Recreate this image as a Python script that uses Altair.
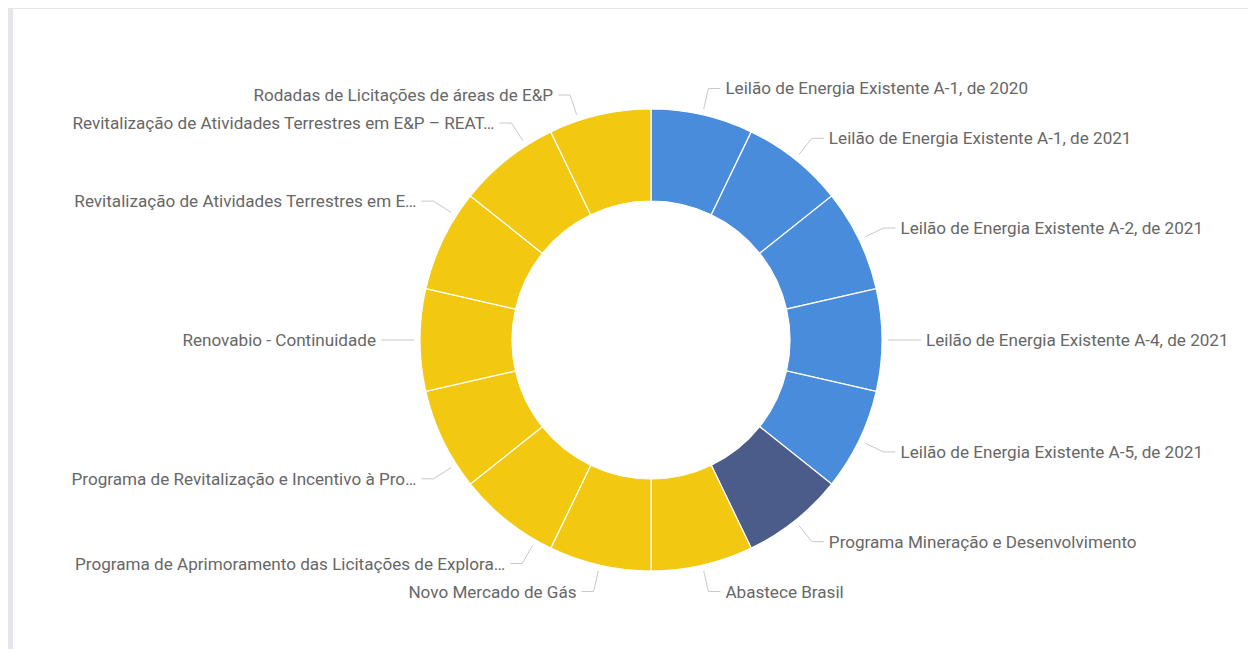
import altair as alt
import numpy as np
import pandas as pd

# ---------------- data ----------------
labels = [
    "Leilão de Energia Existente A-1, de 2020",
    "Leilão de Energia Existente A-1, de 2021",
    "Leilão de Energia Existente A-2, de 2021",
    "Leilão de Energia Existente A-4, de 2021",
    "Leilão de Energia Existente A-5, de 2021",
    "Programa Mineração e Desenvolvimento",
    "Abastece Brasil",
    "Novo Mercado de Gás",
    "Programa de Aprimoramento das Licitações de Explora…",
    "Programa de Revitalização e Incentivo à Pro…",
    "Renovabio - Continuidade",
    "Revitalização de Atividades Terrestres em E…",
    "Revitalização de Atividades Terrestres em E&P – REAT…",
    "Rodadas de Licitações de áreas de E&P",
]
values = [1, 1, 1, 1, 1, 1, 1, 1, 1, 1, 1, 1, 1, 1]
groups = [
    "Energia Elétrica", "Energia Elétrica", "Energia Elétrica",
    "Energia Elétrica", "Energia Elétrica",
    "Mineração",
    "Petróleo e Gás", "Petróleo e Gás", "Petróleo e Gás", "Petróleo e Gás",
    "Petróleo e Gás", "Petróleo e Gás", "Petróleo e Gás", "Petróleo e Gás",
]
group_names = ["Energia Elétrica", "Mineração", "Petróleo e Gás"]
group_colors = ["#4A8CDC", "#4B5C8B", "#F2C811"]

# ---------------- layout parameters ----------------
W, H = 1235, 640          # plot area
CX, CY = 638, 331         # donut centre inside the plot area
R_OUT, R_IN = 231, 139
R_START, R_ELBOW = 237, 258
HSEG, TGAP = 12, 5
SIDE_R = {"right": 258, "left": 320}     # label spreading radius per side
SIDE_TOP = {"right": 258, "left": 245}   # highest label row allowed per side
GAP = 28
TEXT_COLOR = "#676767"
FONT = "Roboto"
FONT_SIZE = 17.1

# ---------------- label layout (derived from the values) ----------------
vals = np.array(values, dtype=float)
cum = np.cumsum(vals)
mid = (cum - vals / 2) / vals.sum() * 2 * np.pi
side = np.where(np.sin(mid) >= 0, "right", "left")
ly = np.zeros(len(vals))
for s in ("right", "left"):
    idx = np.where(side == s)[0]
    ideal = SIDE_R[s] * np.cos(mid[idx])
    order = idx[np.argsort(-ideal)]
    natural = R_ELBOW * np.cos(mid[order])
    top, bottom = min(natural[0], SIDE_TOP[s]), natural[-1]
    y = np.clip(SIDE_R[s] * np.cos(mid[order]), bottom, top)
    for k in range(1, len(y)):
        y[k] = min(y[k], y[k - 1] - GAP)
    y[-1] = max(y[-1], bottom)
    for k in range(len(y) - 2, -1, -1):
        y[k] = max(y[k], y[k + 1] + GAP)
    ly[order] = y

sgn = np.where(side == "right", 1.0, -1.0)
ex = sgn * np.sqrt(np.clip(R_ELBOW ** 2 - ly ** 2, 0, None))
sx = ex * R_START / R_ELBOW
sy = ly * R_START / R_ELBOW
hx = ex + sgn * HSEG
tx = hx + sgn * TGAP

df = pd.DataFrame({
    "label": labels, "value": values, "group": groups,
    "order": np.arange(len(labels)), "side": side,
    "ly": ly, "ex": ex, "sx": sx, "sy": sy, "hx": hx, "tx": tx,
})

xs = alt.Scale(domain=[-CX, W - CX], nice=False, zero=False)
ys = alt.Scale(domain=[-(H - CY), CY], nice=False, zero=False)

base = alt.Chart(df)

arcs = base.mark_arc(outerRadius=R_OUT, innerRadius=R_IN, stroke="white",
                     strokeWidth=1.2).encode(
    theta=alt.Theta("value:Q", stack=True),
    color=alt.Color("group:N", scale=alt.Scale(domain=group_names, range=group_colors),
                    legend=None),
    order=alt.Order("order:Q"),
    x=alt.XDatum(0, type="quantitative", scale=xs, axis=None),
    y=alt.YDatum(0, type="quantitative", scale=ys, axis=None),
)

radial = base.mark_rule(color="#C8C8C8", strokeWidth=1).encode(
    x=alt.X("sx:Q", scale=xs, axis=None), y=alt.Y("sy:Q", scale=ys, axis=None),
    x2="ex:Q", y2="ly:Q",
)
horiz = base.mark_rule(color="#C8C8C8", strokeWidth=1).encode(
    x=alt.X("ex:Q", scale=xs, axis=None), y=alt.Y("ly:Q", scale=ys, axis=None),
    x2="hx:Q", y2="ly:Q",
)

text_common = dict(baseline="middle", font=FONT, fontSize=FONT_SIZE, color=TEXT_COLOR, dy=1)
text_r = base.transform_filter(alt.datum.side == "right").mark_text(align="left", **text_common).encode(
    x=alt.X("tx:Q", scale=xs, axis=None), y=alt.Y("ly:Q", scale=ys, axis=None), text="label:N")
text_l = base.transform_filter(alt.datum.side == "left").mark_text(align="right", **text_common).encode(
    x=alt.X("tx:Q", scale=xs, axis=None), y=alt.Y("ly:Q", scale=ys, axis=None), text="label:N")

chart = alt.layer(arcs, radial, horiz, text_r, text_l).properties(
    width=W, height=H,
    background="#E4E6EC",
    padding={"left": 5, "top": 1, "right": 0, "bottom": 0},
    autosize=alt.AutoSizeParams(type="none"),
).configure_view(fill="white", stroke=None)

chart.save("out.html", embed_options={"renderer": "svg", "actions": False})
